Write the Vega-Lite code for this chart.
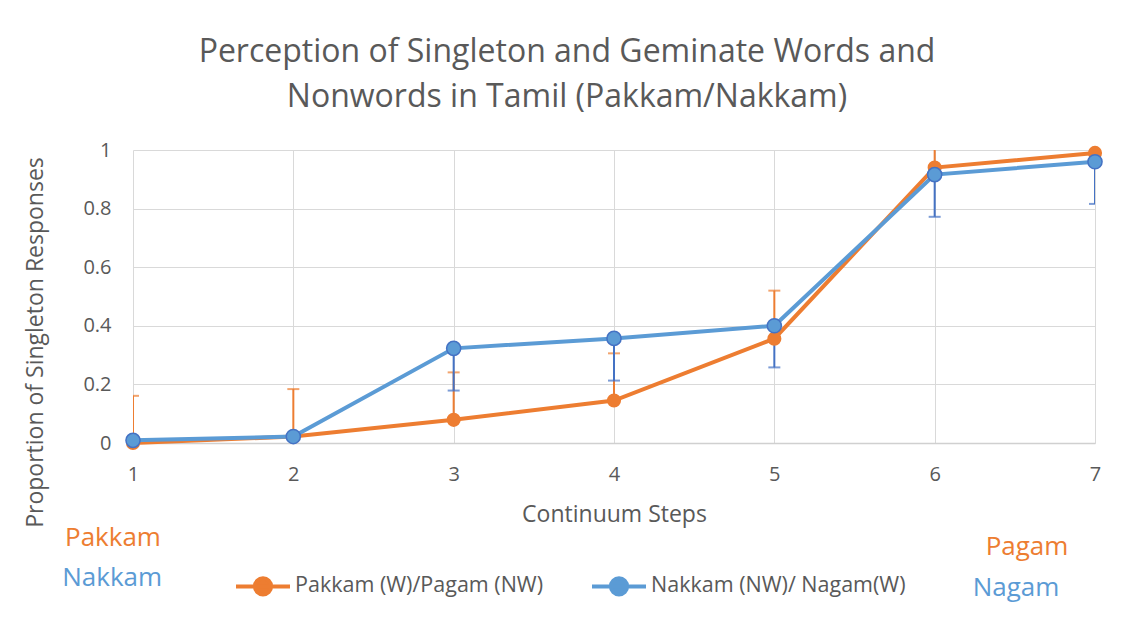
{
  "$schema": "https://vega.github.io/schema/vega-lite/v6.json",
  "width": 962,
  "height": 293,
  "autosize": "none",
  "padding": {"left": 133, "top": 150, "right": 26, "bottom": 179},
  "background": "white",
  "config": {
    "view": {"stroke": null},
    "font": "Open Sans"
  },
  "title": {
    "text": ["Perception of Singleton and Geminate Words and", "Nonwords in Tamil (Pakkam/Nakkam)"],
    "font": "Open Sans",
    "fontSize": 32,
    "fontWeight": "normal",
    "color": "#595959",
    "anchor": "middle",
    "frame": "group",
    "dx": -47,
    "offset": 26,
    "lineHeight": 45
  },
  "datasets": {
    "main": [
      {"step": 1, "series": "Pakkam (W)/Pagam (NW)", "value": 0.0, "lower": 0.0, "upper": 0.161},
      {"step": 2, "series": "Pakkam (W)/Pagam (NW)", "value": 0.022, "lower": 0.022, "upper": 0.184},
      {"step": 3, "series": "Pakkam (W)/Pagam (NW)", "value": 0.079, "lower": 0.079, "upper": 0.241},
      {"step": 4, "series": "Pakkam (W)/Pagam (NW)", "value": 0.145, "lower": 0.145, "upper": 0.306},
      {"step": 5, "series": "Pakkam (W)/Pagam (NW)", "value": 0.356, "lower": 0.356, "upper": 0.52},
      {"step": 6, "series": "Pakkam (W)/Pagam (NW)", "value": 0.94, "lower": 0.94, "upper": 1.1},
      {"step": 7, "series": "Pakkam (W)/Pagam (NW)", "value": 0.99, "lower": null, "upper": null},
      {"step": 1, "series": "Nakkam (NW)/ Nagam(W)", "value": 0.009, "lower": null, "upper": null},
      {"step": 2, "series": "Nakkam (NW)/ Nagam(W)", "value": 0.022, "lower": null, "upper": null},
      {"step": 3, "series": "Nakkam (NW)/ Nagam(W)", "value": 0.323, "lower": 0.179, "upper": 0.323},
      {"step": 4, "series": "Nakkam (NW)/ Nagam(W)", "value": 0.357, "lower": 0.213, "upper": 0.357},
      {"step": 5, "series": "Nakkam (NW)/ Nagam(W)", "value": 0.4, "lower": 0.258, "upper": 0.4},
      {"step": 6, "series": "Nakkam (NW)/ Nagam(W)", "value": 0.916, "lower": 0.772, "upper": 0.916},
      {"step": 7, "series": "Nakkam (NW)/ Nagam(W)", "value": 0.96, "lower": 0.816, "upper": 0.96}
    ],
    "annotations": [
      {"label": "Pakkam", "group": "orange", "step": 0.875, "value": -0.325},
      {"label": "Pagam", "group": "orange", "step": 6.576, "value": -0.355},
      {"label": "Nakkam", "group": "blue", "step": 0.87, "value": -0.461},
      {"label": "Nagam", "group": "blue", "step": 6.507, "value": -0.495}
    ]
  },
  "data": {"name": "main"},
  "encoding": {
    "x": {
      "field": "step",
      "type": "quantitative",
      "scale": {"domain": [1, 7], "nice": false, "zero": false},
      "axis": {
        "values": [1, 2, 3, 4, 5, 6, 7],
        "format": "d",
        "title": "Continuum Steps",
        "grid": true,
        "gridColor": "#D9D9D9",
        "gridWidth": 1,
        "ticks": false,
        "domain": true,
        "domainColor": "#D0D0D0",
        "domainWidth": 1.5,
        "labelFlush": false,
        "labelFont": "Open Sans",
        "labelFontSize": 20,
        "labelColor": "#595959",
        "labelPadding": 21,
        "titleFont": "Open Sans",
        "titleFontSize": 23,
        "titleFontWeight": "normal",
        "titleColor": "#595959",
        "titleY": 71,
        "titleBaseline": "middle"
      }
    },
    "y": {
      "field": "value",
      "type": "quantitative",
      "scale": {"domain": [0, 1], "nice": false},
      "axis": {
        "values": [0, 0.2, 0.4, 0.6, 0.8, 1],
        "format": "~g",
        "title": "Proportion of Singleton Responses",
        "grid": true,
        "gridColor": "#D9D9D9",
        "gridWidth": 1,
        "ticks": false,
        "domain": false,
        "labelFont": "Open Sans",
        "labelFontSize": 20,
        "labelColor": "#595959",
        "labelPadding": 22,
        "titleFont": "Open Sans",
        "titleFontSize": 23,
        "titleFontWeight": "normal",
        "titleColor": "#595959",
        "titleX": -98,
        "titleY": 192,
        "titleAngle": -90,
        "titleAlign": "center",
        "titleBaseline": "middle"
      }
    }
  },
  "layer": [
    {
      "transform": [{"filter": "datum.series == 'Pakkam (W)/Pagam (NW)' && datum.upper != null"}],
      "mark": {"type": "rule", "color": "#ED7D31", "strokeWidth": 2, "clip": true},
      "encoding": {"y": {"field": "lower", "type": "quantitative"}, "y2": {"field": "upper"}}
    },
    {
      "transform": [{"filter": "datum.series == 'Pakkam (W)/Pagam (NW)' && datum.upper != null"}],
      "mark": {"type": "tick", "orient": "horizontal", "color": "#ED7D31", "size": 12, "thickness": 2, "clip": true},
      "encoding": {"y": {"field": "upper", "type": "quantitative"}}
    },
    {
      "transform": [{"filter": "datum.series == 'Nakkam (NW)/ Nagam(W)' && datum.lower != null"}],
      "mark": {"type": "rule", "color": "#4472C4", "strokeWidth": 2, "clip": true},
      "encoding": {"y": {"field": "lower", "type": "quantitative"}, "y2": {"field": "upper"}}
    },
    {
      "transform": [{"filter": "datum.series == 'Nakkam (NW)/ Nagam(W)' && datum.lower != null"}],
      "mark": {"type": "tick", "orient": "horizontal", "color": "#4472C4", "size": 12, "thickness": 2, "clip": true},
      "encoding": {"y": {"field": "lower", "type": "quantitative"}}
    },
    {
      "transform": [{"filter": "datum.series == 'Pakkam (W)/Pagam (NW)'"}],
      "mark": {"type": "line", "strokeWidth": 4},
      "encoding": {
        "color": {
          "field": "series",
          "type": "nominal",
          "scale": {"domain": ["Pakkam (W)/Pagam (NW)", "Nakkam (NW)/ Nagam(W)"], "range": ["#ED7D31", "#5B9BD5"]},
          "legend": {
            "orient": "none",
            "legendX": 101,
            "legendY": 407,
            "direction": "horizontal",
            "title": null,
            "symbolType": "M-1,0L1,0M-0.3,0A0.3,0.3,0,1,0,0.3,0A0.3,0.3,0,1,0,-0.3,0Z",
            "symbolSize": 2916,
            "symbolStrokeWidth": 4,
            "labelFont": "Open Sans",
            "labelFontSize": 21.5,
            "labelColor": "#595959",
            "labelOffset": 3,
            "labelLimit": 400,
            "columnPadding": 40,
            "encode": {"symbols": {"update": {"fill": {"scale": "color", "field": "value"}, "fillOpacity": {"value": 1}}}}
          }
        }
      }
    },
    {
      "transform": [{"filter": "datum.series == 'Nakkam (NW)/ Nagam(W)'"}],
      "mark": {"type": "line", "strokeWidth": 4},
      "encoding": {"color": {"field": "series", "type": "nominal"}}
    },
    {
      "transform": [{"filter": "datum.series == 'Pakkam (W)/Pagam (NW)'"}],
      "mark": {"type": "point", "filled": true, "size": 200, "color": "#ED7D31", "opacity": 1}
    },
    {
      "transform": [{"filter": "datum.series == 'Nakkam (NW)/ Nagam(W)'"}],
      "mark": {"type": "point", "filled": true, "size": 200, "fill": "#5B9BD5", "stroke": "#4472C4", "strokeWidth": 1.5, "opacity": 1}
    },
    {
      "data": {"name": "annotations"},
      "transform": [{"filter": "datum.group == 'orange'"}],
      "mark": {"type": "text", "color": "#ED7D31", "fontSize": 26, "font": "Open Sans", "align": "center", "baseline": "middle"},
      "encoding": {"text": {"field": "label"}}
    },
    {
      "data": {"name": "annotations"},
      "transform": [{"filter": "datum.group == 'blue'"}],
      "mark": {"type": "text", "color": "#5B9BD5", "fontSize": 26, "font": "Open Sans", "align": "center", "baseline": "middle"},
      "encoding": {"text": {"field": "label"}}
    }
  ]
}
